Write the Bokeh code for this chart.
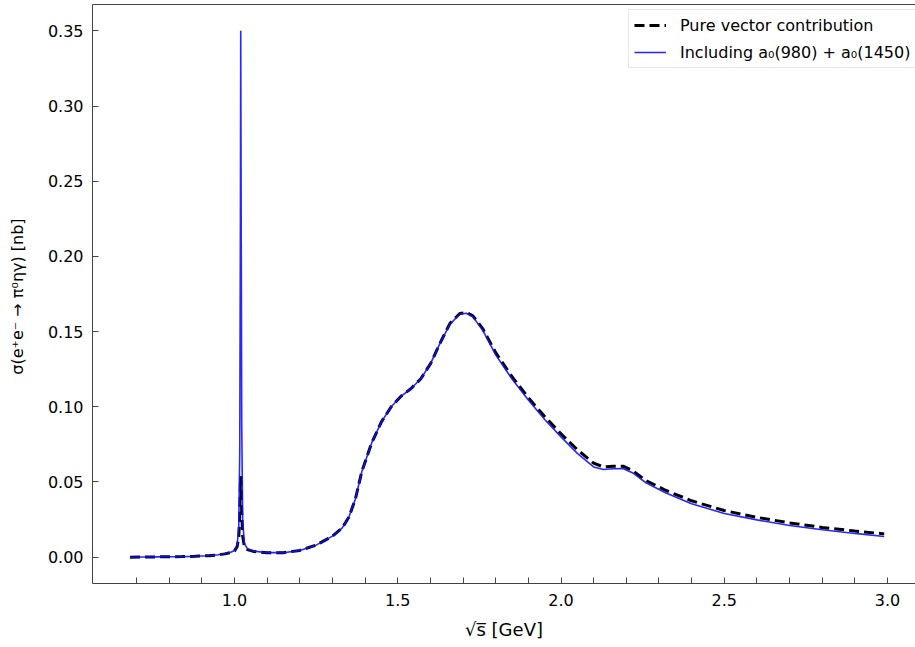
from bokeh.plotting import figure
from bokeh.models import (Range1d, LinearAxis, FixedTicker,
                          PrintfTickFormatter, Legend, LegendItem)
from bokeh.embed import file_html
from bokeh.resources import INLINE

# sqrt(s) in GeV
sqrt_s = [0.68, 0.72, 0.76, 0.80, 0.84, 0.88, 0.92, 0.95, 0.97, 0.99,
          1.000, 1.008, 1.013, 1.016, 1.018, 1.019, 1.020, 1.022, 1.025, 1.030,
          1.040, 1.06, 1.10, 1.15, 1.20, 1.25, 1.30, 1.33, 1.35, 1.37,
          1.39, 1.42, 1.45, 1.48, 1.51, 1.54, 1.57, 1.60, 1.63, 1.66,
          1.69, 1.71, 1.73, 1.76, 1.80, 1.85, 1.90, 1.95, 2.00, 2.05,
          2.10, 2.13, 2.16, 2.19, 2.22, 2.26, 2.32, 2.40, 2.50, 2.60,
          2.70, 2.80, 2.90, 2.99]

# cross section, pure vector contribution [nb]
sigma_vector = [0.0000, 0.0001, 0.0002, 0.0003, 0.0004, 0.0006, 0.0010, 0.0015, 0.0022, 0.0032,
                0.0042, 0.0070, 0.0130, 0.0280, 0.0480, 0.0540, 0.0500, 0.0300, 0.0140, 0.0075,
                0.0050, 0.0037, 0.0029, 0.0030, 0.0045, 0.0080, 0.0140, 0.0195, 0.0265, 0.0385,
                0.0570, 0.0760, 0.0900, 0.1000, 0.1070, 0.1120, 0.1185, 0.1285, 0.1425, 0.1555,
                0.1620, 0.1628, 0.1605, 0.1520, 0.1360, 0.1200, 0.1060, 0.0935, 0.0820, 0.0715,
                0.0625, 0.0600, 0.0605, 0.0605, 0.0575, 0.0510, 0.0445, 0.0375, 0.0310, 0.0265,
                0.0228, 0.0198, 0.0174, 0.0155]

# cross section including a0(980) + a0(1450) [nb]
sigma_full = [0.0000, 0.0001, 0.0002, 0.0003, 0.0004, 0.0006, 0.0010, 0.0016, 0.0023, 0.0034,
              0.0045, 0.0080, 0.0200, 0.0700, 0.2200, 0.3500, 0.2600, 0.0900, 0.0250, 0.0090,
              0.0055, 0.0040, 0.0030, 0.0030, 0.0045, 0.0080, 0.0140, 0.0195, 0.0265, 0.0385,
              0.0570, 0.0760, 0.0900, 0.1000, 0.1070, 0.1120, 0.1185, 0.1285, 0.1425, 0.1550,
              0.1615, 0.1622, 0.1598, 0.1510, 0.1345, 0.1185, 0.1045, 0.0915, 0.0800, 0.0690,
              0.0600, 0.0583, 0.0588, 0.0590, 0.0560, 0.0495, 0.0428, 0.0356, 0.0290, 0.0248,
              0.0211, 0.0182, 0.0158, 0.0138]

y_ticks = [0.00, 0.05, 0.10, 0.15, 0.20, 0.25, 0.30, 0.35]
x_ticks = [1.0, 1.5, 2.0, 2.5, 3.0]
x_minor_ticks = [0.7, 0.8, 0.9, 1.1, 1.2, 1.3, 1.4, 1.6, 1.7, 1.8, 1.9,
                 2.1, 2.2, 2.3, 2.4, 2.6, 2.7, 2.8, 2.9]

FONT = "DejaVu Sans"
AX = "#444444"

p = figure(width=915, height=647, output_backend="svg", toolbar_location=None,
           x_range=Range1d(0.565, 3.0858), y_range=Range1d(-0.0175, 0.3675),
           min_border_left=92, min_border_right=0, min_border_top=4,
           min_border_bottom=64,
           background_fill_color="white", border_fill_color="white")
p.outline_line_color = None
p.grid.visible = False

r1 = p.line(sqrt_s, sigma_vector, line_color="black", line_width=3, line_dash="10 5")
r2 = p.line(sqrt_s, sigma_full, line_color="#1010ff", line_width=1.6, line_alpha=0.9)

xa = p.xaxis[0]
xa.ticker = FixedTicker(ticks=x_ticks, minor_ticks=x_minor_ticks)
xa.formatter = PrintfTickFormatter(format="%.1f")
ya = p.yaxis[0]
ya.ticker = FixedTicker(ticks=y_ticks, minor_ticks=[])
ya.formatter = PrintfTickFormatter(format="%.2f")

for ax in (xa, ya):
    ax.axis_line_color = AX
    ax.axis_line_width = 1
    ax.major_tick_in = 6
    ax.major_tick_out = 0
    ax.minor_tick_in = 6
    ax.minor_tick_out = 0
    ax.major_tick_line_color = AX
    ax.minor_tick_line_color = AX
    ax.major_label_text_font = FONT
    ax.major_label_text_font_size = "16px"
    ax.major_label_text_color = "black"
    ax.axis_label_text_font = FONT
    ax.axis_label_text_font_style = "normal"
    ax.axis_label_text_color = "black"

xa.axis_label = "\u221as\u0305 [GeV]"
xa.axis_label_text_font_size = "18px"
xa.major_label_standoff = 10
xa.axis_label_standoff = 10
ya.axis_label = "\u03c3(e\u207ae\u207b \u2192 \u03c0\u2070\u03b7\u03b3)  [nb]"
ya.axis_label_text_font_size = "16px"
ya.major_label_standoff = 9
ya.axis_label_standoff = 18

top = LinearAxis(ticker=FixedTicker(ticks=[]), axis_line_color=AX,
                 major_tick_line_color=None, minor_tick_line_color=None,
                 major_label_text_font_size="0px")
p.add_layout(top, "above")

legend = Legend(items=[LegendItem(label="Pure vector contribution", renderers=[r1]),
                       LegendItem(label="Including a\u2080(980) + a\u2080(1450)", renderers=[r2])],
                location=(536, 515))
legend.label_text_font = FONT
legend.label_text_font_size = "16px"
legend.label_text_color = "black"
legend.glyph_width = 32
legend.label_standoff = 14
legend.padding = 5
legend.spacing = 7
legend.label_height = 20
legend.glyph_height = 20
legend.border_line_color = "#d0d0d0"
legend.border_line_width = 1
legend.background_fill_alpha = 0.8
p.add_layout(legend, "center")

open("out.html", "w").write(file_html(p, INLINE))
